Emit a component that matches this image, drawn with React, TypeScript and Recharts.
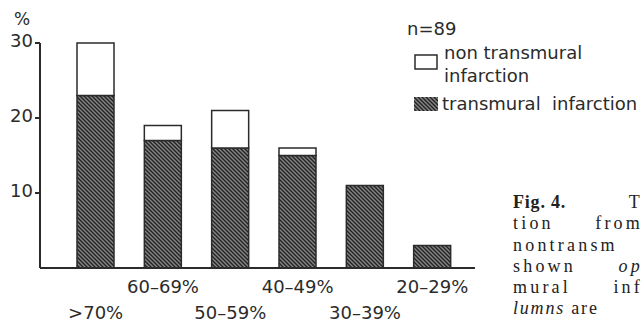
import React from 'react';
import { BarChart, Bar, XAxis, YAxis, Legend } from 'recharts';

// infarct depth groups, % of patients (n = 89)
const groups = ['>70%', '60–69%', '50–59%', '40–49%', '30–39%', '20–29%'];
const transmural = [23, 17, 16, 15, 11, 3];
const nonTransmural = [7, 2, 5, 1, 0, 0];
const yTicks = [10, 20, 30];

// caption beside the chart, as much of each line as fits
const captionLines = [
  ['Fig. 4.', 'T'],
  ['tion', 'from'],
  ['nontransm'],
  ['shown', 'op'],
  ['mural', 'inf'],
  ['lumns are'],
];

const rows = groups.map((group, i) => ({
  group,
  transmural: transmural[i],
  nonTransmural: nonTransmural[i],
}));

const INK = '#2b2b2b';
const FONT = '"DejaVu Sans", sans-serif';

// staggered category labels: even slots on the lower line, odd on the upper
function GroupTick(props: any) {
  const { x, y, payload, index } = props;
  const dy = index % 2 === 0 ? 36 : 10;
  return (
    <text
      x={x}
      y={y + dy}
      textAnchor="middle"
      dominantBaseline="central"
      fontFamily={FONT}
      fontSize={18}
      fill={INK}
    >
      {payload.value}
    </text>
  );
}

function KeyBox() {
  return (
    <div style={{ fontFamily: FONT, fontSize: 18, color: INK, lineHeight: '23px' }}>
      <div style={{ marginLeft: -7 }}>n=89</div>
      <div style={{ display: 'flex', alignItems: 'flex-start', marginTop: 1 }}>
        <svg width={24} height={16} style={{ marginTop: 13, marginRight: 6 }}>
          <rect x={1} y={1} width={22} height={14} fill="#fff" stroke={INK} strokeWidth={1.5} />
        </svg>
        <div>
          non transmural
          <br />
          infarction
        </div>
      </div>
      <div style={{ display: 'flex', alignItems: 'center', marginTop: 5 }}>
        <svg width={24} height={14} style={{ marginRight: 4 }}>
          <rect x={0} y={0} width={24} height={14} fill="url(#hatch)" />
        </svg>
        <div style={{ whiteSpace: 'pre' }}>transmural  infarction</div>
      </div>
    </div>
  );
}

function Caption() {
  return (
    <div
      style={{
        position: 'absolute',
        left: 513,
        top: 192,
        width: 130,
        fontFamily: '"Liberation Serif", serif',
        fontSize: 18,
        lineHeight: '21.3px',
        color: '#222',
        whiteSpace: 'pre',
        letterSpacing: 3.2,
      }}
    >
      {captionLines.map((words, i) => (
        <div key={i} style={{ display: 'flex', justifyContent: 'space-between' }}>
          {words.map((w, j) => {
            const bold = i === 0 && j === 0;
            const italic = i === 3 && j === 1;
            if (i === 5) {
              return (
                <span key={j} style={{ letterSpacing: 1.8 }}>
                  <i>lumns</i> are
                </span>
              );
            }
            return (
              <span
                key={j}
                style={{
                  fontWeight: bold ? 'bold' : 'normal',
                  fontStyle: italic ? 'italic' : 'normal',
                  letterSpacing: bold ? 0.8 : undefined,
                }}
              >
                {w}
              </span>
            );
          })}
        </div>
      ))}
    </div>
  );
}

export default function App() {
  return (
    <div
      style={{
        position: 'absolute',
        left: 0,
        top: 0,
        width: 642,
        height: 321,
        background: '#fff',
        overflow: 'hidden',
      }}
    >
      <BarChart
        width={642}
        height={321}
        data={rows}
        margin={{ top: 43, right: 167, bottom: 0, left: 8 }}
        barSize={37}
      >
        <defs>
          <pattern id="hatch" patternUnits="userSpaceOnUse" width={4} height={4}>
            <rect width={4} height={4} fill="#858585" />
            <path d="M-1,-1 L5,5 M-1,3 L1,5 M3,-1 L5,1" stroke="#222" strokeWidth={1.4} />
          </pattern>
        </defs>
        <XAxis
          dataKey="group"
          height={53}
          padding={{ left: 22, right: 9 }}
          axisLine={{ stroke: INK, strokeWidth: 2 }}
          tickLine={false}
          tick={<GroupTick />}
          interval={0}
        />
        <YAxis
          width={32}
          domain={[0, 30]}
          ticks={yTicks}
          tickSize={5}
          tickMargin={2}
          axisLine={{ stroke: INK, strokeWidth: 2 }}
          tickLine={{ stroke: INK, strokeWidth: 2 }}
          tick={{ fontFamily: FONT, fontSize: 18, fill: INK, dy: -2 }}
          label={{
            value: '%',
            position: 'top',
            offset: 18,
            dx: -2,
            fontFamily: FONT,
            fontSize: 17,
            fill: INK,
          }}
        />
        <Legend
          layout="horizontal"
          verticalAlign="middle"
          align="center"
          wrapperStyle={{ position: 'absolute', left: 414, top: 17, width: 230 }}
          content={() => <KeyBox />}
        />
        <Bar
          dataKey="transmural"
          stackId="a"
          fill="url(#hatch)"
          stroke={INK}
          strokeWidth={1.5}
          isAnimationActive={false}
        />
        <Bar
          dataKey="nonTransmural"
          stackId="a"
          fill="#fff"
          stroke={INK}
          strokeWidth={1.5}
          isAnimationActive={false}
        />
      </BarChart>
      <Caption />
    </div>
  );
}
